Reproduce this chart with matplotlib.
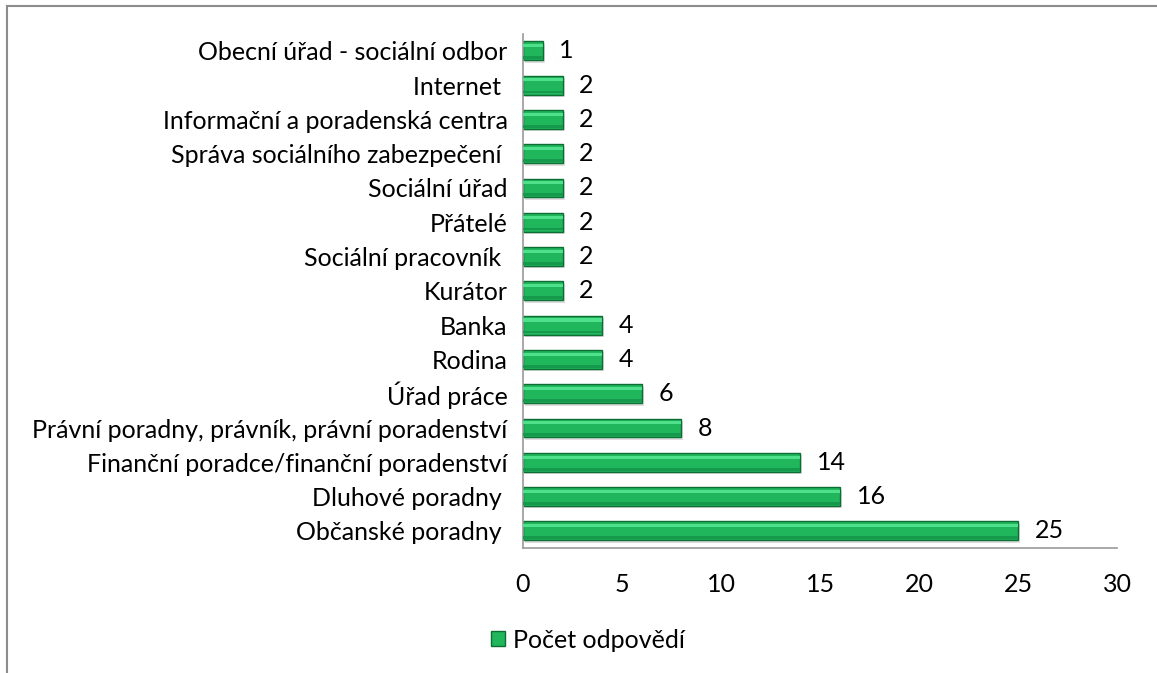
import matplotlib.pyplot as plt
from matplotlib.lines import Line2D
from matplotlib.patches import Patch

plt.rcParams['font.family'] = ['Lato', 'DejaVu Sans']

# Data (bottom to top)
categories = [
    "Občanské poradny ",
    "Dluhové poradny ",
    "Finanční poradce/finanční poradenství",
    "Právní poradny, právník, právní poradenství",
    "Úřad práce",
    "Rodina",
    "Banka",
    "Kurátor",
    "Sociální pracovník ",
    "Přátelé",
    "Sociální úřad",
    "Správa sociálního zabezpečení ",
    "Informační a poradenská centra",
    "Internet ",
    "Obecní úřad - sociální odbor",
]
counts = [25, 16, 14, 8, 6, 4, 4, 2, 2, 2, 2, 2, 2, 2, 1]
xticks = [0, 5, 10, 15, 20, 25, 30]
series_name = "Počet odpovědí"

FS = 18

fig = plt.figure(figsize=(11.57, 6.73), dpi=100)
ax = fig.add_axes([0.452, 0.1857, 0.5135, 0.7643])

# outer frame (top + left edges of the chart area)
fig.add_artist(Line2D([0.006, 0.006], [0.0, 0.991], color='#8c8c8c', lw=1.5))
fig.add_artist(Line2D([0.006, 1.0], [0.991, 0.991], color='#8c8c8c', lw=1.5))

ypos = list(range(len(categories)))
h = 0.55

# soft shadow
ax.barh([y - 0.07 for y in ypos], counts, height=h, left=0.1,
        color='#dcdcdc', zorder=1)
# main bar
ax.barh(ypos, counts, height=h, color='#1fb65c', edgecolor='#0d6e34',
        linewidth=1.0, zorder=2)
# bevel: light band near top, darker band near bottom
ax.barh([y + 0.15 for y in ypos], counts, height=0.09, color='#4fe08c',
        zorder=3)
ax.barh([y - 0.2 for y in ypos], counts, height=0.08, color='#15994c',
        zorder=3)

for y, v in zip(ypos, counts):
    ax.annotate(str(v), (v, y), xytext=(12, 0), textcoords='offset points',
                ha='left', va='center', fontsize=FS, color='black')

ax.set_xlim(0, 30)
ax.set_ylim(-0.5, len(categories) - 0.5)
ax.set_xticks(xticks)
ax.set_xticklabels([str(t) for t in xticks])
ax.set_yticks(ypos)
ax.set_yticklabels(categories)
ax.tick_params(axis='both', length=0, labelsize=FS)
ax.tick_params(axis='y', pad=11)
ax.tick_params(axis='x', pad=18)

for s in ['top', 'right']:
    ax.spines[s].set_visible(False)
for s in ['left', 'bottom']:
    ax.spines[s].set_color('#9a9a9a')
    ax.spines[s].set_linewidth(1.2)

handle = Patch(facecolor='#1fb65c', edgecolor='#0d6e34')
fig.legend([handle], [series_name], loc='center',
           bbox_to_anchor=(588 / 1157, 1 - 640 / 673), frameon=False,
           fontsize=FS, handlelength=0.55, handleheight=0.55,
           handletextpad=0.3)

fig.savefig('out.png', dpi=100)
